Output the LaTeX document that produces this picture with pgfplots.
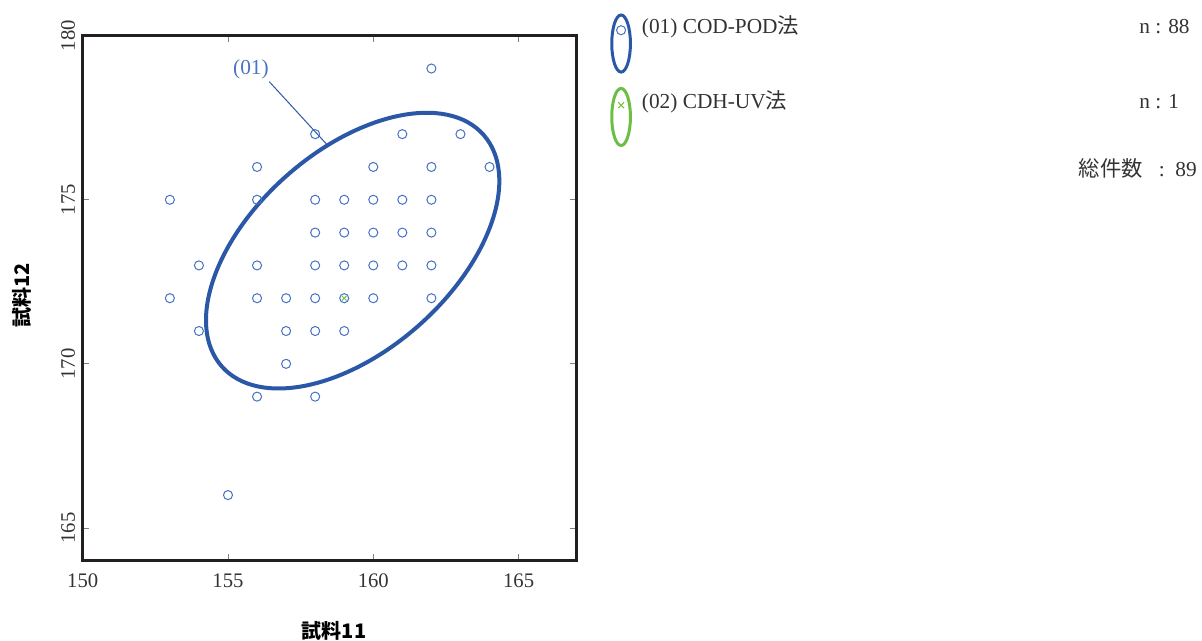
\documentclass[border=0pt]{standalone}
\usepackage{fontspec}
\setmainfont{Liberation Serif}
\newfontfamily\cjk{Noto Sans CJK JP}
\usepackage{pgfplots}
\pgfplotsset{compat=1.18}
\definecolor{markblue}{HTML}{4472C4}
\definecolor{ellblue}{HTML}{2B58A6}
\definecolor{annblue}{HTML}{4A74C0}
\definecolor{ellgreen}{HTML}{6CBE45}
\definecolor{markgreen}{HTML}{7AC143}
\definecolor{axisgray}{HTML}{231F20}

\begin{document}
\begin{tikzpicture}
\path[use as bounding box] (0,0) rectangle (901.5pt,-480pt);
\begin{axis}[
  at={(62.025pt,-420.525pt)}, anchor=south west,
  width=370.5pt, height=393.75pt, scale only axis,
  xmin=150, xmax=167, ymin=164, ymax=180,
  xtick={150,155,160,165}, ytick={165,170,175,180},
  tick align=inside, major tick length=5pt,
  axis line style={line width=2.25pt, color=axisgray},
  tick style={line width=0.6pt, color=gray},
  /pgf/number format/assume math mode=true,
  /pgf/number format/1000 sep={},
  ticklabel style={font=\fontsize{15.5}{18}\selectfont, color=black!80},
  xticklabel style={anchor=center},
  xticklabel shift=15.2pt,
  yticklabel style={rotate=90, anchor=center},
  yticklabel shift=11pt,
  xlabel={{\cjk\bfseries 試料11}},
  ylabel={{\cjk\bfseries 試料12}},
  xlabel style={at={(axis description cs:0.509,-0.1339)}, anchor=center, font=\fontsize{15}{18}\selectfont},
  ylabel style={at={(axis description cs:-0.1229,0.506)}, anchor=center, font=\fontsize{15}{18}\selectfont},
  legend style={at={(axis description cs:1.0674,1.0428)}, anchor=north west,
    draw=none, fill=none, inner sep=0pt, row sep=10pt, column sep=7.5pt,
    nodes={inner sep=0pt, anchor=base west},
    font=\fontsize{16}{19}\selectfont, text=black!80},
  legend cell align=left,
  clip=false,
]
\addplot[only marks, mark=o, mark size=3.4pt, color=markblue, line width=0.75pt,
  legend image code/.code={
    \draw[ellblue, line width=2.25pt] (0pt,-7.4pt) ellipse [x radius=7pt, y radius=21.4pt];
    \draw[markblue, line width=0.75pt] (0pt,2.6pt) circle [radius=3.4pt];
  }] coordinates {
  (162,179)
  (158,177) (161,177) (163,177)
  (156,176) (160,176) (162,176) (164,176)
  (153,175) (156,175) (158,175) (159,175) (160,175) (161,175) (162,175)
  (158,174) (159,174) (160,174) (161,174) (162,174)
  (154,173) (156,173) (158,173) (159,173) (160,173) (161,173) (162,173)
  (153,172) (156,172) (157,172) (158,172) (159,172) (160,172) (162,172)
  (154,171) (157,171) (158,171) (159,171)
  (157,170)
  (156,169) (158,169)
  (155,166)
};
\addlegendentry{\makebox[373pt][l]{(01) COD-POD{\cjk 法}}n : 88}
\addplot[only marks, mark=x, mark size=2.5pt, color=markgreen, line width=0.75pt,
  legend image code/.code={
    \draw[ellgreen, line width=2.25pt] (0pt,-6.2pt) ellipse [x radius=7pt, y radius=21.4pt];
    \draw[markgreen, line width=0.75pt] (-2.2pt,0.4pt) -- (2.2pt,4.8pt) (-2.2pt,4.8pt) -- (2.2pt,0.4pt);
  }] coordinates {(159,172)};
\addlegendentry{\makebox[373pt][l]{(02) CDH-UV{\cjk 法}}n : 1}
\draw[ellblue, line width=3pt, rotate around={41.5:(axis cs:159.29,173.45)}]
  (axis cs:159.29,173.45) ellipse [x radius=131.06pt, y radius=74.89pt];
\draw[ellblue, line width=0.75pt] (axis cs:156.42,178.60) -- (axis cs:158.45,176.64);
\node[annblue, font=\fontsize{16}{19}\selectfont] at (axis cs:155.79,178.98) {(01)};
\end{axis}
\node[anchor=east, inner sep=0pt, font=\fontsize{16}{19}\selectfont, text=black!80] at (897.75pt,-126.4pt) {{\cjk 総件数}\hspace{12pt}:\hspace{8pt}89};
\end{tikzpicture}
\end{document}
